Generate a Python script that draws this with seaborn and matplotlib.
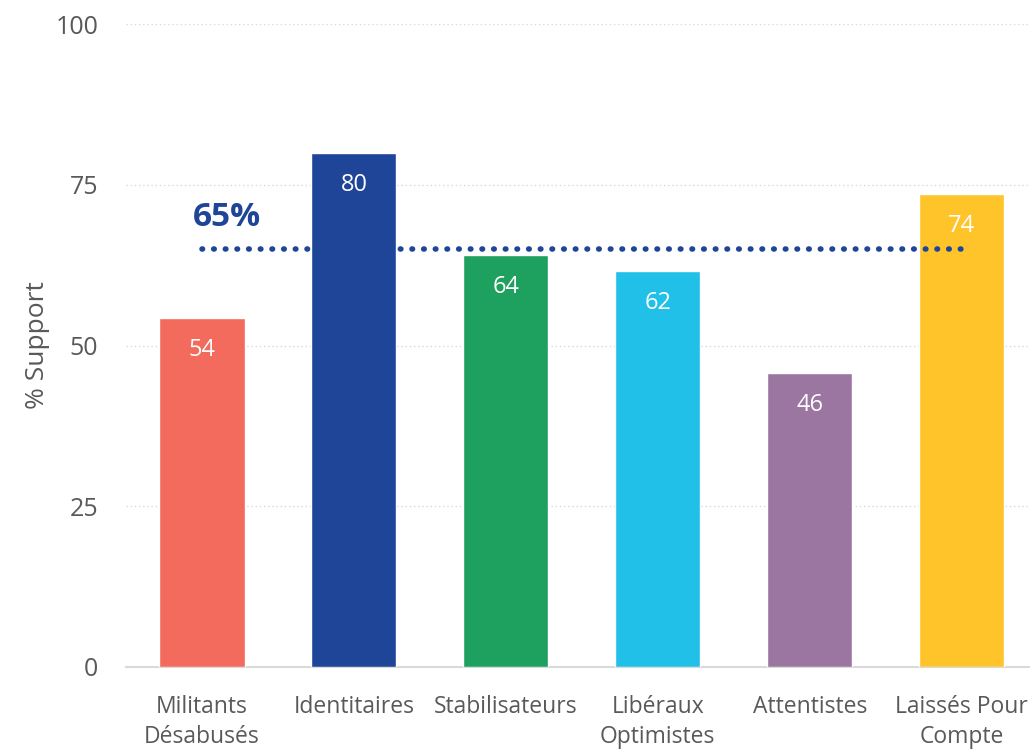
import pandas as pd
import matplotlib.pyplot as plt
import seaborn as sns

# data
categories = ["Militants\nDésabusés", "Identitaires", "Stabilisateurs",
              "Libéraux\nOptimistes", "Attentistes", "Laissés Pour\nCompte"]
support = [54.3, 80.0, 64.1, 61.6, 45.7, 73.5]
labels = ["54", "80", "64", "62", "46", "74"]
colors = ["#F26B5D", "#1F4599", "#1EA15E", "#20C0E8", "#9A76A0", "#FFC42A"]
average = 65

df = pd.DataFrame({"group": categories, "support": support})

sns.set_style("white")
plt.rcParams['font.family'] = ['Open Sans', 'DejaVu Sans']
grey = "#595959"

fig = plt.figure(figsize=(10.3, 7.49), dpi=100)
ax = fig.add_axes([126 / 1030, 1 - 667 / 749, 904 / 1030, (667 - 24) / 749])

sns.barplot(data=df, x="group", y="support", hue="group", palette=colors,
            saturation=1, width=0.56, legend=False, ax=ax, zorder=3)

# value labels inside bars
for i, (v, lab) in enumerate(zip(support, labels)):
    ax.text(i, v - 3.1, lab, ha="center", va="top", color="white", fontsize=17)

# average line
ax.hlines(average, 0, 5, colors="#1F4599", linestyles=(0, (0.1, 2.0)),
          linewidth=4, zorder=4, capstyle="round")
ax.text(-0.06, average + 2.3, f"{average}%", color="#1F4599", fontsize=24,
        fontweight="bold", ha="left", va="bottom")

ax.set_ylim(0, 100)
ax.set_xlim(-0.5, 5.45)
ax.set_yticks([0, 25, 50, 75, 100])
ax.yaxis.grid(True, color="#d9d9d9", linestyle=(0, (1, 2)), linewidth=1)
ax.set_axisbelow(True)
for s in ["top", "right", "left"]:
    ax.spines[s].set_visible(False)
ax.spines["bottom"].set_color("#d9d9d9")
ax.spines["bottom"].set_linewidth(1.5)
ax.tick_params(axis="both", length=0, colors=grey)
ax.tick_params(axis="x", labelsize=16.5, pad=20)
ax.tick_params(axis="y", labelsize=18, pad=20)
for t in ax.get_xticklabels():
    t.set_linespacing(1.35)
ax.set_xlabel("")
ax.set_ylabel("% Support", fontsize=19, color=grey, labelpad=4)

fig.savefig("out.png", dpi=100)
